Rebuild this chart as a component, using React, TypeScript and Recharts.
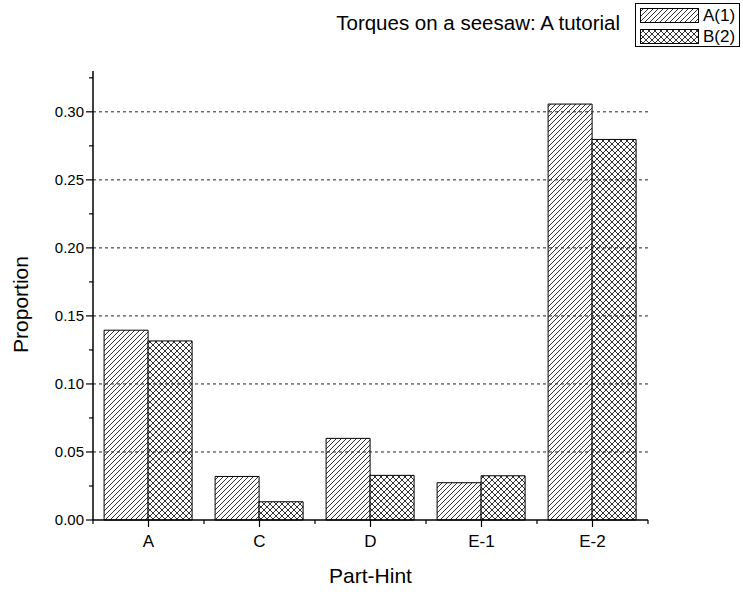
import React from "react";
import {
  BarChart,
  Bar,
  XAxis,
  YAxis,
  ReferenceLine,
  Legend,
} from "recharts";

const categories = ["A", "C", "D", "E-1", "E-2"];
const seriesA = [0.1395, 0.032, 0.06, 0.0274, 0.3057];
const seriesB = [0.1316, 0.0134, 0.0328, 0.0325, 0.2797];

const yTicks = [
  0, 0.025, 0.05, 0.075, 0.1, 0.125, 0.15, 0.175, 0.2, 0.225, 0.25, 0.275,
  0.3, 0.325,
];
const yMajor = [0, 0.05, 0.1, 0.15, 0.2, 0.25, 0.3];
const yDomain = [0, 0.33];

const title = "Torques on a seesaw: A tutorial";
const seriesNames = ["A(1)", "B(2)"];

const data = categories.map((c, i) => ({ name: c, a: seriesA[i], b: seriesB[i] }));

const FONT = "'Liberation Sans', Arial, sans-serif";

function YTick(props: any) {
  const { x, y, payload } = props;
  const major = yMajor.some((v) => Math.abs(v - payload.value) < 1e-9);
  return (
    <g>
      <line x1={x - (major ? 7 : 4)} x2={x} y1={y} y2={y} stroke="#000" strokeWidth={1.2} />
      {major && (
        <text x={x - 9} y={y} dy={5} textAnchor="end" fontSize={15} fill="#000">
          {payload.value.toFixed(2)}
        </text>
      )}
    </g>
  );
}

function XTick(props: any) {
  const { x, y, payload, index, visibleTicksCount } = props;
  const half = payload.offset ?? 0;
  const last = index === visibleTicksCount - 1;
  return (
    <g>
      <line x1={x} x2={x} y1={y} y2={y + 7} stroke="#000" strokeWidth={1.2} />
      <line x1={x - half} x2={x - half} y1={y} y2={y + 4} stroke="#000" strokeWidth={1.2} />
      {last && (
        <line x1={x + half} x2={x + half} y1={y} y2={y + 4} stroke="#000" strokeWidth={1.2} />
      )}
      <text x={x} y={y + 27} textAnchor="middle" fontSize={17} fill="#000">
        {payload.value}
      </text>
    </g>
  );
}

function TitleLegend() {
  const fills = ["url(#hatchA)", "url(#crossB)"];
  return (
    <div style={{ position: "relative", width: 743, height: 50, fontFamily: FONT }}>
      <div style={{ position: "absolute", right: 123, top: 11, fontSize: 20.5, color: "#000" }}>
        {title}
      </div>
      <div
        style={{
          position: "absolute",
          left: 635,
          top: 3,
          width: 105,
          height: 44,
          border: "1px solid #000",
          boxSizing: "border-box",
        }}
      >
        {seriesNames.map((n, i) => (
          <div key={n} style={{ display: "flex", alignItems: "center", height: 21, marginTop: i === 0 ? 1 : 0 }}>
            <svg width={62} height={17} style={{ marginLeft: 4 }}>
              <rect x={0.5} y={1.5} width={58} height={14} fill={fills[i]} stroke="#000" />
            </svg>
            <span style={{ fontSize: 17, marginLeft: 1 }}>{n}</span>
          </div>
        ))}
      </div>
    </div>
  );
}

export default function App() {
  return (
    <div style={{ position: "absolute", left: 0, top: 0, fontFamily: FONT, background: "#fff" }}>
      <BarChart
        width={743}
        height={594}
        data={data}
        margin={{ top: 71, right: 95, bottom: 0, left: 0 }}
        barCategoryGap="10%"
        barGap={0}
      >
        <defs>
          <pattern id="hatchA" patternUnits="userSpaceOnUse" width={5} height={5}>
            <rect width={5} height={5} fill="#fff" />
            <path d="M0,5 L5,0 M-1,1 L1,-1 M4,6 L6,4" stroke="#000" strokeWidth={0.8} />
          </pattern>
          <pattern id="crossB" patternUnits="userSpaceOnUse" width={6} height={6}>
            <rect width={6} height={6} fill="#fff" />
            <path d="M0,0 L6,6 M6,0 L0,6" stroke="#000" strokeWidth={0.8} />
          </pattern>
        </defs>
        <XAxis
          dataKey="name"
          height={74}
          tickSize={0}
          tickMargin={0}
          tickLine={false}
          axisLine={{ stroke: "#000", strokeWidth: 1.5 }}
          tick={(p: any) => <XTick {...p} />}
          interval={0}
          label={{ value: "Part-Hint", position: "insideBottom", offset: 11, fontSize: 21, fill: "#000" }}
        />
        <YAxis
          width={93}
          domain={yDomain}
          ticks={yTicks}
          interval={0}
          tickSize={0}
          tickMargin={0}
          tickLine={false}
          axisLine={{ stroke: "#000", strokeWidth: 1.5 }}
          tick={(p: any) => <YTick {...p} />}
          label={{
            value: "Proportion",
            angle: -90,
            position: "insideLeft",
            offset: 21,
            dy: 9,
            fontSize: 21,
            fill: "#000",
            style: { textAnchor: "middle" },
          }}
        />
        {/* dashed guide lines at the labelled values */}
        {yMajor
          .filter((v) => v > 0)
          .map((v) => (
            <ReferenceLine key={v} y={v} stroke="#222" strokeDasharray="3 3" strokeWidth={1} />
          ))}
        <Legend
          layout="horizontal"
          verticalAlign="middle"
          align="center"
          wrapperStyle={{ top: 0, left: 0, width: 743, height: 50 }}
          content={() => <TitleLegend />}
        />
        <Bar dataKey="a" name={seriesNames[0]} fill="url(#hatchA)" stroke="#000" strokeWidth={1} isAnimationActive={false} />
        <Bar dataKey="b" name={seriesNames[1]} fill="url(#crossB)" stroke="#000" strokeWidth={1} isAnimationActive={false} />
      </BarChart>
    </div>
  );
}
